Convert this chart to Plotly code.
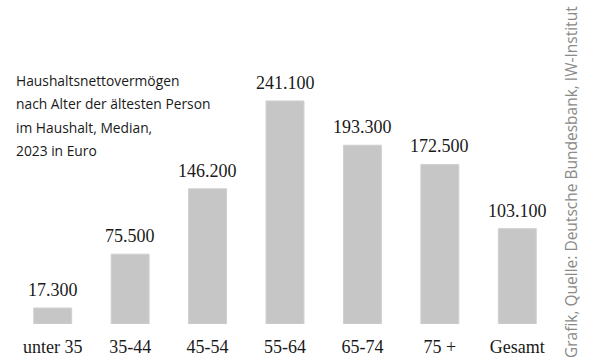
import plotly.graph_objects as go

categories = ["unter 35", "35-44", "45-54", "55-64", "65-74", "75 +", "Gesamt"]
values = [17300, 75500, 146200, 241100, 193300, 172500, 103100]
title_lines = ["Haushaltsnettovermögen", "nach Alter der ältesten Person",
               "im Haushalt, Median,", "2023 in Euro"]
source = "Grafik, Quelle: Deutsche Bundesbank, IW-Institut"

def fmt(v):
    return f"{v:,}".replace(",", ".")

fig = go.Figure(go.Bar(
    x=categories, y=values,
    marker=dict(color="#c6c6c6", line=dict(color="#d0d0d0", width=1)),
    hoverinfo="skip",
))

annotations = []
for c, v in zip(categories, values):
    annotations.append(dict(
        x=c, y=v, xref="x", yref="y", text=fmt(v), showarrow=False,
        yanchor="bottom", yshift=6,
        font=dict(family="Liberation Serif", size=18, color="#1a1a1a"),
    ))

for i, line in enumerate(title_lines):
    annotations.append(dict(
        x=14, y=80 + i * 23.5, xref="paper", yref="paper", text=line,
        showarrow=False, xanchor="left", yanchor="middle",
        font=dict(family="Open Sans", size=13.8, color="#1a1a1a"),
    ))

annotations.append(dict(
    x=571, y=182, text=source, showarrow=False, textangle=-90,
    xanchor="center", yanchor="middle",
    font=dict(family="Open Sans", size=15.5, color="#8a8a8a"),
))

# convert pixel-based positions of text annotations to paper coords
L, R, T, B = 14, 44, 24, 39
W, H = 600, 363
pw, ph = W - L - R, H - T - B
for a in annotations:
    if a.get("xref") == "paper" or "xref" not in a:
        a["xref"] = "paper"
        a["yref"] = "paper"
        a["x"] = (a["x"] - L) / pw
        a["y"] = (H - B - a["y"]) / ph

fig.update_layout(
    width=W, height=H,
    margin=dict(l=L, r=R, t=T, b=B, pad=0, autoexpand=False),
    paper_bgcolor="white", plot_bgcolor="white",
    bargap=0.51,
    showlegend=False,
    annotations=annotations,
    xaxis=dict(
        showgrid=False, zeroline=False, showline=False, automargin=False,
        ticks="", ticklabelstandoff=10,
        tickfont=dict(family="Liberation Serif", size=18, color="#1a1a1a"),
    ),
    yaxis=dict(
        range=[0, 324324], showgrid=False, zeroline=False, automargin=False,
        showline=False, showticklabels=False, ticks="",
    ),
)

fig.write_html("out.html")
